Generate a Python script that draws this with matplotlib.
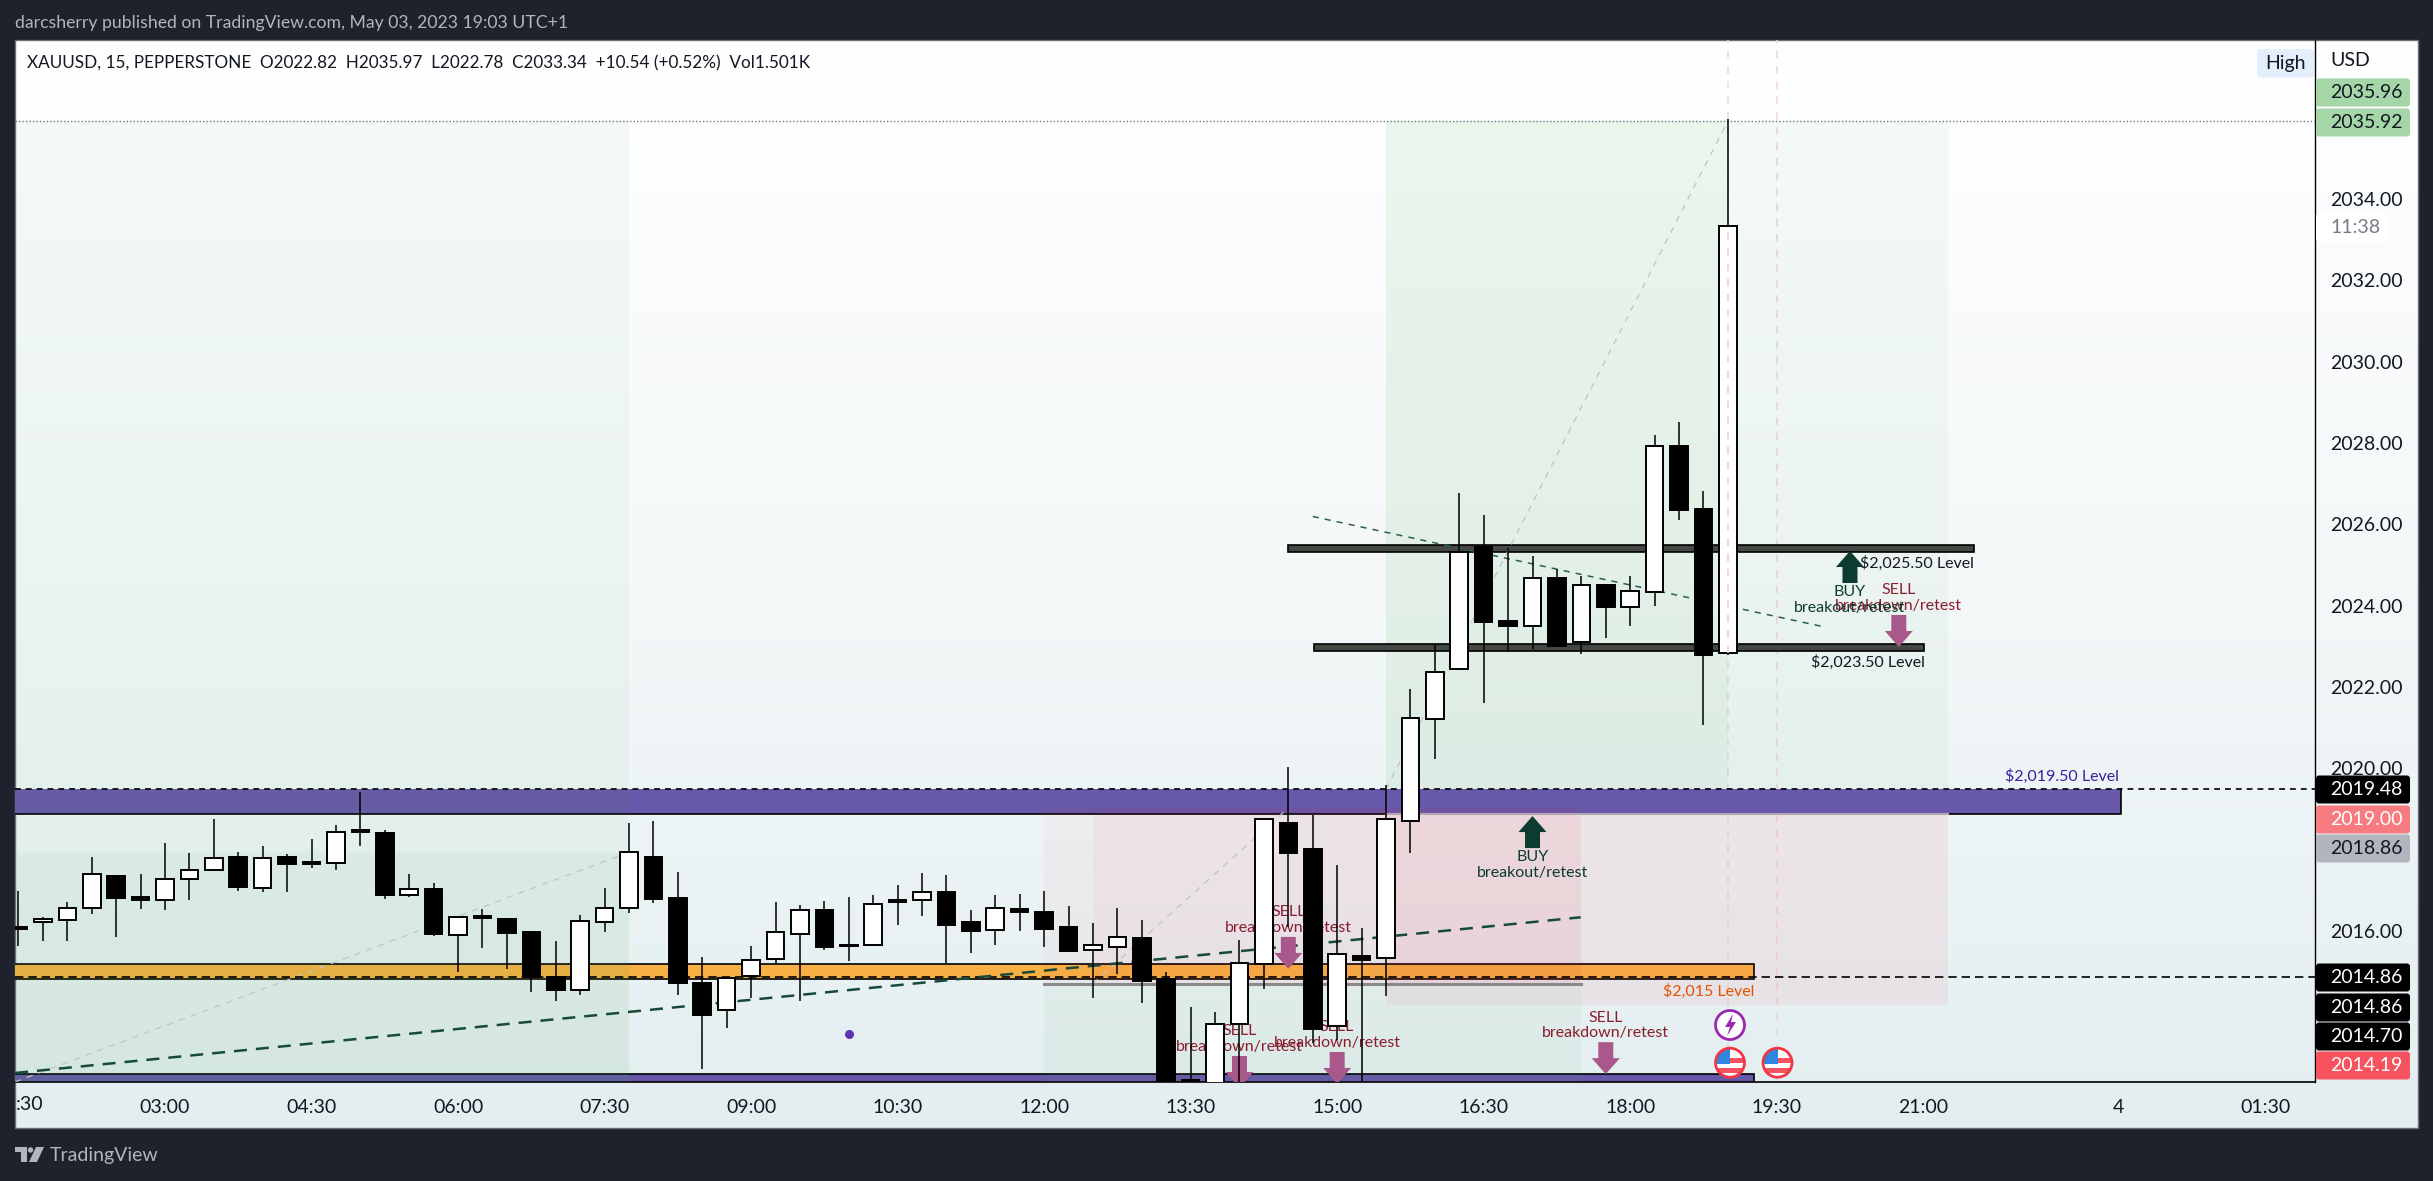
import numpy as np
import matplotlib
matplotlib.use("Agg")
import matplotlib.pyplot as plt
from matplotlib.patches import Rectangle, Circle, FancyBboxPatch, Polygon
from matplotlib.colors import LinearSegmentedColormap

plt.rcParams['font.family'] = 'Lato'

W, H = 2433, 1181
FRAME = '#1e222d'

# candle data, one value per 15 min bar
opens = [2016.09, 2016.21, 2016.26, 2016.55, 2017.34, 2016.83, 2016.75, 2017.26, 2017.49, 2017.81,
         2017.04, 2017.81, 2017.68, 2017.66, 2018.42, 2018.40, 2016.89, 2017.03, 2015.89, 2016.35,
         2016.29, 2015.97, 2014.85, 2014.53, 2016.21, 2016.57, 2017.81, 2016.80, 2014.71, 2014.04,
         2014.88, 2015.30, 2015.91, 2016.51, 2015.62, 2015.66, 2016.70, 2016.75, 2016.95, 2016.21,
         2016.01, 2016.53, 2016.46, 2016.09, 2015.52, 2015.59, 2015.82, 2014.80, 2012.33, 2012.10,
         2013.70, 2015.18, 2018.65, 2018.01, 2013.65, 2015.38, 2015.32, 2018.71, 2021.20, 2022.43,
         2025.44, 2023.62, 2023.50, 2024.68, 2023.09, 2024.50, 2023.97, 2024.32, 2027.92, 2026.37,
         2022.82]
highs = [2016.98, 2016.33, 2016.71, 2017.81, 2017.34, 2017.39, 2018.15, 2017.90, 2018.75, 2017.93,
         2018.08, 2017.88, 2018.26, 2018.60, 2019.41, 2018.47, 2017.39, 2017.17, 2016.33, 2016.53,
         2016.29, 2015.97, 2015.75, 2016.38, 2017.05, 2018.65, 2018.70, 2017.44, 2015.35, 2014.84,
         2015.62, 2016.71, 2016.63, 2016.73, 2016.83, 2016.89, 2017.12, 2017.42, 2017.37, 2016.51,
         2016.87, 2016.90, 2016.98, 2016.61, 2016.19, 2016.56, 2016.26, 2014.98, 2014.12, 2013.99,
         2015.77, 2018.76, 2020.03, 2018.85, 2017.62, 2016.06, 2019.58, 2021.95, 2023.03, 2026.77,
         2026.23, 2025.41, 2025.22, 2024.91, 2024.73, 2024.50, 2024.73, 2028.19, 2028.51, 2026.82,
         2035.97]
lows = [2015.62, 2015.75, 2015.75, 2016.42, 2015.85, 2016.53, 2016.52, 2016.76, 2017.49, 2016.98,
        2016.96, 2016.96, 2017.55, 2017.50, 2018.09, 2016.79, 2016.84, 2015.88, 2014.99, 2015.58,
        2015.07, 2014.48, 2014.28, 2014.43, 2015.98, 2016.44, 2016.67, 2014.43, 2012.61, 2013.61,
        2014.35, 2015.18, 2014.28, 2015.53, 2015.26, 2015.63, 2016.14, 2016.35, 2015.21, 2015.46,
        2015.65, 2016.00, 2015.61, 2015.51, 2014.35, 2014.93, 2014.23, 2012.00, 2011.50, 2011.90,
        2012.10, 2014.57, 2016.10, 2013.23, 2013.31, 2012.28, 2014.39, 2017.92, 2020.23, 2022.43,
        2021.61, 2022.86, 2022.94, 2022.99, 2022.81, 2023.21, 2023.50, 2024.00, 2026.10, 2021.07,
        2022.78]
closes = [2016.04, 2016.30, 2016.57, 2017.39, 2016.81, 2016.76, 2017.26, 2017.49, 2017.78, 2017.08,
          2017.80, 2017.65, 2017.65, 2018.44, 2018.47, 2016.89, 2017.02, 2015.93, 2016.33, 2016.32,
          2015.95, 2014.85, 2014.55, 2016.23, 2016.57, 2017.93, 2016.79, 2014.72, 2013.93, 2014.84,
          2015.27, 2015.96, 2016.50, 2015.61, 2015.66, 2016.65, 2016.75, 2016.94, 2016.15, 2016.00,
          2016.55, 2016.47, 2016.05, 2015.51, 2015.66, 2015.84, 2014.77, 2012.30, 2012.10, 2013.70,
          2015.20, 2018.74, 2017.92, 2013.59, 2015.42, 2015.29, 2018.74, 2021.23, 2022.36, 2025.32,
          2023.60, 2023.50, 2024.67, 2023.01, 2024.50, 2023.97, 2024.35, 2027.92, 2026.36, 2022.77,
          2033.34]
first_bar = -6

time_ticks = [0, 6, 12, 18, 24, 30, 36, 42, 48, 54, 60, 66, 72, 80, 86]
time_labels = ['03:00', '04:30', '06:00', '07:30', '09:00', '10:30', '12:00', '13:30', '15:00',
               '16:30', '18:00', '19:30', '21:00', '4', '01:30']
price_ticks = [2016, 2020, 2022, 2024, 2026, 2028, 2030, 2032, 2034]

# (left bar, right bar, low, high, colour, alpha)
zone_left = [-6.14, -6.14, 50, 50, 36, 36, 38, 50]
zone_right = [19, 19, 64, 73, 58, 58, 58, 73]
zone_low = [2012.28, 2012.28, 2019.48, 2019.48, 2012.28, 2014.70, 2014.70, 2014.17]
zone_high = [2035.92, 2017.93, 2035.92, 2035.92, 2014.70, 2019.02, 2019.02, 2018.86]
zone_color = ['#4caf50'] * 5 + ['#f23645'] * 3
zone_alpha = [0.05, 0.05, 0.05, 0.05, 0.05, 0.04, 0.04, 0.07]

# price bands
purple_top = (2018.87, 2019.48, 80.1)
orange_band = (2014.80, 2015.17, 65.07)
purple_low = (2012.0, 2012.47, 65.07)
level_upper = (46.0, 74.06, 2025.32, 2025.48)
level_lower = (47.06, 72.05, 2022.89, 2023.05)

# arrows: bar, tip price
sell_bars = [46, 44, 48, 59, 71]
sell_tips = [2015.06, 2012.13, 2012.23, 2012.47, 2022.98]
buy_bars = [69, 56]
buy_tips = [2025.34, 2018.82]

# dashed and dotted drawings
diag_x = [(-6.14, 19), (38, 46), (50, 64)]
diag_y = [(2012.28, 2017.93), (2014.70, 2019.02), (2019.48, 2035.92)]
trend_thick_x, trend_thick_y = (-6.14, 57.97), (2012.50, 2016.33)
trend_thin_x, trend_thin_y = (47, 67.9), (2026.19, 2023.48)
event_bars = [64, 66]

# px <-> price calibration taken from the 2016 and 2034 ticks
PX_PER_UNIT = 40.65
Y2016 = 930.7
PX_PER_BAR = 24.42
X0 = 165.0


def price_at(y):
    return 2016 + (Y2016 - y) / PX_PER_UNIT


fig = plt.figure(figsize=(W / 100, H / 100), dpi=100, facecolor=FRAME)

# background + frame, in pixel coordinates
bg = fig.add_axes([0, 0, 1, 1], zorder=0)
bg.set_xlim(0, W)
bg.set_ylim(H, 0)
bg.axis('off')
cmap = LinearSegmentedColormap.from_list('bg', ['#ffffff', '#f4f8f9', '#e3eef0'])
grad = np.linspace(0, 1, 256).reshape(-1, 1)
bg.imshow(grad, cmap=cmap, extent=(15, 2418, 1128, 40), aspect='auto', zorder=1)
bg.set_xlim(0, W)
bg.set_ylim(H, 0)
bg.add_patch(Rectangle((15, 40), 2403, 1088, fill=False, ec='#6b6f7a', lw=1, zorder=2))

# main chart
ax_left, ax_right, ax_top, ax_bottom = 15, 2315, 40, 1082
ax = fig.add_axes([ax_left / W, (H - ax_bottom) / H, (ax_right - ax_left) / W, (ax_bottom - ax_top) / H],
                  zorder=1)
ax.patch.set_alpha(0)
ax.set_xlim((ax_left - X0) / PX_PER_BAR, (ax_right - X0) / PX_PER_BAR)
ax.set_ylim(price_at(ax_bottom), price_at(ax_top))
for s in ['top', 'left']:
    ax.spines[s].set_visible(False)
ax.spines['right'].set_color('black')
ax.spines['bottom'].set_color('black')
ax.spines['right'].set_linewidth(1)
ax.spines['bottom'].set_linewidth(1.2)

ax.set_xticks(time_ticks)
ax.set_xticklabels(time_labels, fontsize=14, color='#131722')
ax.yaxis.tick_right()
ax.set_yticks(price_ticks)
ax.set_yticklabels([f'{p:.2f}' for p in price_ticks], fontsize=14, color='#131722')
ax.tick_params(axis='x', length=0, pad=12)
ax.tick_params(axis='y', length=0, pad=11)

# session break lines, under the bands
for x in event_bars:
    ax.axvline(x, color='#efd3d9', lw=1.1, ls=(0, (5, 5)), zorder=1.5)

# position tool shading
for l, r, lo, hi, c, a in zip(zone_left, zone_right, zone_low, zone_high, zone_color, zone_alpha):
    ax.add_patch(Rectangle((l, lo), r - l, hi - lo, fc=c, alpha=a, ec='none', zorder=3))

xmin = ax.get_xlim()[0]
xmax = ax.get_xlim()[1]

# bands
ax.add_patch(Rectangle((xmin - 1, purple_top[0]), purple_top[2] - xmin + 1, purple_top[1] - purple_top[0],
                       fc='#6758a9', ec='none', zorder=2))
ax.plot([xmin, purple_top[2], purple_top[2]], [purple_top[0], purple_top[0], purple_top[1]],
        color='black', lw=1.2, zorder=2.2)
ax.add_patch(Rectangle((xmin - 1, orange_band[0]), orange_band[2] - xmin + 1, orange_band[1] - orange_band[0],
                       fc='#f7b044', ec='black', lw=1.2, zorder=2))
ax.add_patch(Rectangle((xmin - 1, purple_low[0]), purple_low[2] - xmin + 1, purple_low[1] - purple_low[0],
                       fc='#6758a9', ec='black', lw=1.2, zorder=2))
for l, r, lo, hi in [level_upper, level_lower]:
    ax.add_patch(Rectangle((l, lo), r - l, hi - lo, fc='#434843', ec='black', lw=1.2, zorder=3.3))

# entry lines of the short/long tools
ax.plot([36, 58], [2014.70, 2014.70], color='#8a8a8a', lw=2.2, zorder=3.2)
ax.plot([50, 73], [2018.86, 2018.86], color='#b0a8ae', lw=1.5, zorder=3.2)

# price lines
ax.plot([xmin, xmax], [2019.48, 2019.48], color='black', lw=1.2, ls=(0, (3.5, 3)), zorder=4)
ax.plot([xmin, xmax], [2014.86, 2014.86], color='black', lw=1.2, ls=(0, (5, 3)), zorder=4)
ax.plot([xmin, xmax], [2035.92, 2035.92], color='#6f7680', lw=1, ls=(0, (1, 1.5)), zorder=4)

# drawings
for dx, dy in zip(diag_x, diag_y):
    ax.plot(dx, dy, color='#c0c4c4', lw=0.9, ls=(0, (5, 5)), zorder=3.5)
ax.plot(trend_thick_x, trend_thick_y, color='#174a3c', lw=1.8, ls=(0, (5.2, 3.6)), zorder=4)
ax.plot(trend_thin_x, trend_thin_y, color='#2b5f50', lw=1.1, ls=(0, (4, 4)), zorder=4)
ax.scatter([28.03], [2013.46], s=30, color='#5e35b1', zorder=4)


def arrow(x, tip, up, color):
    # size is about 32px tall, 28px wide
    sgn = -1 if up else 1
    hw = 14.0 / PX_PER_BAR
    tw = 7.5 / PX_PER_BAR
    hh = 16.0 / PX_PER_UNIT
    tot = 32.0 / PX_PER_UNIT
    pts = [(x, tip), (x + hw, tip + sgn * hh), (x + tw, tip + sgn * hh), (x + tw, tip + sgn * tot),
           (x - tw, tip + sgn * tot), (x - tw, tip + sgn * hh), (x - hw, tip + sgn * hh)]
    ax.add_patch(Polygon(pts, closed=True, fc=color, ec='none', zorder=4.5))


for x, tip in zip(sell_bars, sell_tips):
    arrow(x, tip, False, '#a8588a')
    ax.text(x, tip + 41 / PX_PER_UNIT, 'breakdown/retest', color='#8a1c2e', fontsize=11.5,
            ha='center', va='center', zorder=4.4, clip_on=True)
    ax.text(x, tip + 56.6 / PX_PER_UNIT, 'SELL', color='#8a1c2e', fontsize=11.5,
            ha='center', va='center', zorder=4.4, clip_on=True)
for x, tip in zip(buy_bars, buy_tips):
    arrow(x, tip, True, '#0c3b30')
    ax.text(x, tip - 41 / PX_PER_UNIT, 'BUY', color='#0c3b30', fontsize=11.5,
            ha='center', va='center', zorder=4.4)
    ax.text(x, tip - 57 / PX_PER_UNIT, 'breakout/retest', color='#0c3b30', fontsize=11.5,
            ha='center', va='center', zorder=4.4)

# level labels
ax.text(74.06, price_at(563.7), '$2,025.50 Level', color='#131722', fontsize=11.5, ha='right', va='center', zorder=4.4)
ax.text(72.05, price_at(662.7), '$2,023.50 Level', color='#131722', fontsize=11.5, ha='right', va='center', zorder=4.4)
ax.text(80.0, price_at(776.7), '$2,019.50 Level', color='#3a1fa0', fontsize=11.5, ha='right', va='center', zorder=4.4)
ax.text(65.07, price_at(991.7), '$2,015 Level', color='#e65100', fontsize=11.5, ha='right', va='center', zorder=4.4)

# candles, wicks split so nothing runs through the white bodies
bars = first_bar + np.arange(len(opens))
o = np.array(opens)
c = np.array(closes)
ax.vlines(bars, np.maximum(o, c), highs, color='black', lw=1.1, zorder=5)
ax.vlines(bars, lows, np.minimum(o, c), color='black', lw=1.1, zorder=5)
ax.bar(bars, np.abs(c - o), bottom=np.minimum(o, c), width=0.72,
       color=['white' if cl >= op else 'black' for op, cl in zip(opens, closes)],
       edgecolor='black', linewidth=1.4, zorder=5.1)

# the session line shows through the last candle body
ax.plot([event_bars[0], event_bars[0]], [opens[-1], closes[-1]], color='#efc9d2', lw=1.1,
        ls=(0, (5, 5)), zorder=6)

# overlay: badges, header, icons, logo
top = fig.add_axes([0, 0, 1, 1], zorder=2)
top.set_xlim(0, W)
top.set_ylim(H, 0)
top.axis('off')


def badge(y0, y1, label, fc, tc, x1=2412):
    top.add_patch(FancyBboxPatch((2316, y0 + 0.5), x1 - 2316 - 2, y1 - y0 - 1,
                                 boxstyle='round,pad=0,rounding_size=3', fc=fc, ec='none', zorder=3))
    top.text(2330, (y0 + y1) / 2, label, color=tc, fontsize=14, ha='left', va='center', zorder=4)


badge(78, 107, '2035.96', '#a5d6a7', '#131722')
badge(108, 137, '2035.92', '#a5d6a7', '#131722')
badge(775, 804, '2019.48', '#000000', 'white')
badge(805, 834, '2019.00', '#f77c80', 'white')
badge(834, 863, '2018.86', '#b2b5be', '#131722')
badge(963, 992, '2014.86', '#000000', 'white')
badge(993, 1022, '2014.86', '#000000', 'white')
badge(1022, 1051, '2014.70', '#000000', 'white')
badge(1051, 1080, '2014.19', '#f7525f', 'white')
badge(213, 242, '11:38', 'white', '#787b86', x1=2391)
top.text(2330, 61, 'USD', color='#131722', fontsize=14, ha='left', va='center')

top.add_patch(FancyBboxPatch((2257, 49), 57, 28.5, boxstyle='round,pad=0,rounding_size=3',
                             fc='#e3effd', ec='none', zorder=3))
top.text(2285.5, 63, 'High', color='#131722', fontsize=14, ha='center', va='center', zorder=4)

top.text(15, 23, 'darcsherry published on TradingView.com, May 03, 2023 19:03 UTC+1',
         color='#b2b5be', fontsize=12.7, ha='left', va='center')
top.text(27, 63, 'XAUUSD, 15, PEPPERSTONE  O2022.82  H2035.97  L2022.78  C2033.34  +10.54 (+0.52%)  Vol1.501K',
         color='#131722', fontsize=12.3, ha='left', va='center')
top.text(29.5, 1104.5, ':30', color='#131722', fontsize=14, ha='center', va='center')

# calendar icons
top.add_patch(Circle((1730, 1025), 14.5, fc='white', ec='#9c27b0', lw=2, zorder=5))
top.add_patch(Polygon([(1733, 1014), (1725, 1027), (1730, 1027), (1727, 1036), (1736, 1022), (1731, 1022)],
                      closed=True, fc='#9c27b0', ec='none', zorder=6))
for cx in [1730, 1777.5]:
    clip = Circle((cx, 1062.7), 14.5, transform=top.transData)
    top.add_patch(Circle((cx, 1062.7), 14.5, fc='white', ec='none', zorder=5))
    for y0, col, x0, wd in [(1058, '#f7525f', cx, 20), (1068, '#f7525f', cx - 20, 40)]:
        r = Rectangle((x0, y0), wd, 5, fc=col, ec='none', zorder=6)
        top.add_patch(r)
        r.set_clip_path(clip)
    r = Rectangle((cx - 16, 1047), 16, 17, fc='#2e86e0', ec='none', zorder=6)
    top.add_patch(r)
    r.set_clip_path(clip)
    top.add_patch(Circle((cx, 1062.7), 14.5, fill=False, ec='#f23645', lw=2, zorder=7))

# TradingView logo
logo = '#b2b5be'
top.add_patch(Polygon([(15, 1147), (27, 1147), (27, 1162), (21, 1162), (21, 1152), (15, 1152)],
                      closed=True, fc=logo, ec='none'))
top.add_patch(Circle((30.5, 1150), 2.7, fc=logo, ec='none'))
top.add_patch(Polygon([(36, 1147), (44, 1147), (37, 1162), (29, 1162)], closed=True, fc=logo, ec='none'))
top.text(50, 1155, 'TradingView', color=logo, fontsize=14, ha='left', va='center')

fig.savefig('out.png', dpi=100, facecolor=FRAME)
